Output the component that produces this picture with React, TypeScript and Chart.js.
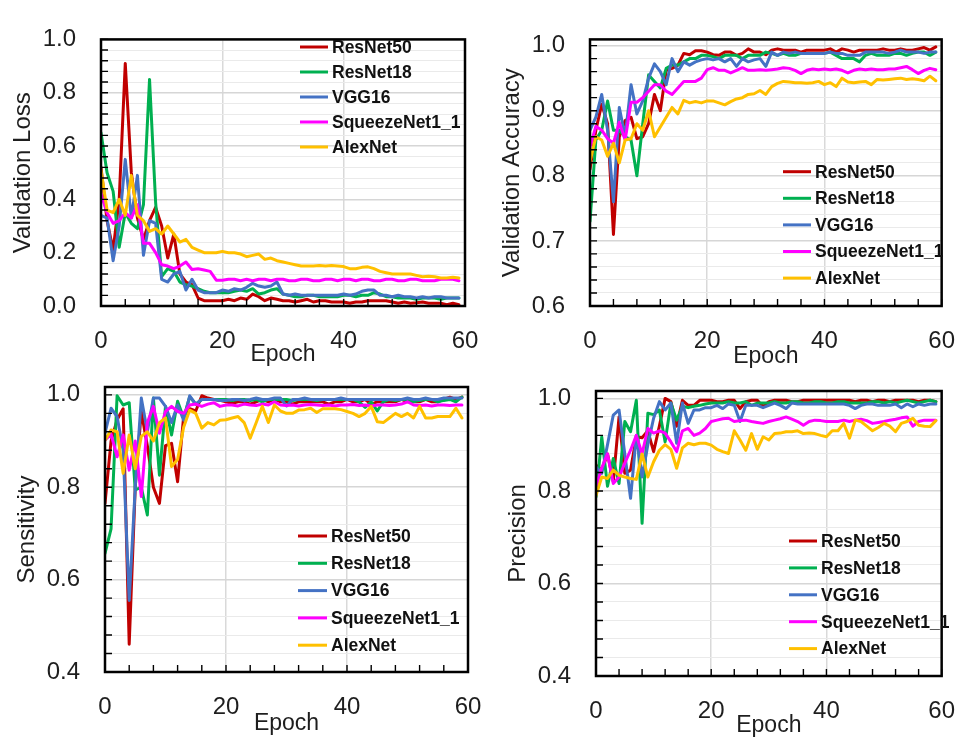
import React, { useEffect, useRef } from 'react';
import { Chart, registerables } from 'chart.js';
Chart.register(...registerables);

// ---------- data ----------
const epochs = [0,1,2,3,4,5,6,7,8,9,10,11,12,13,14,15,16,17,18,19,20,21,22,23,24,25,26,27,28,29,30,31,32,33,34,35,36,37,38,39,40,41,42,43,44,45,46,47,48,49,50,51,52,53,54,55,56,57,58,59];
const modelNames = ['ResNet50', 'ResNet18', 'VGG16', 'SqueezeNet1_1', 'AlexNet'];
const modelColors = ['#C00000', '#00B050', '#4472C4', '#FF00FF', '#FFC000'];

const xTickLabels = ['0', '20', '40', '60'];
const lossTickLabels = ['0.0', '0.2', '0.4', '0.6', '0.8', '1.0'];
const accTickLabels = ['0.6', '0.7', '0.8', '0.9', '1.0'];
const sensTickLabels = ['0.4', '0.6', '0.8', '1.0'];
const precTickLabels = ['0.4', '0.6', '0.8', '1.0'];

const lossResNet50 = [0.52,0.32,0.21,0.40,0.91,0.50,0.33,0.25,0.32,0.37,0.30,0.18,0.27,0.12,0.09,0.08,0.03,0.02,0.02,0.02,
  0.02,0.025,0.02,0.03,0.025,0.045,0.035,0.02,0.03,0.025,
  0.02,0.02,0.015,0.02,0.025,0.015,0.02,0.02,0.015,0.015,
  0.015,0.01,0.015,0.015,0.02,0.02,0.02,0.02,0.015,0.01,
  0.015,0.01,0.012,0.015,0.01,0.01,0.01,0.005,0.01,0.005];
const lossResNet18 = [0.65,0.50,0.43,0.22,0.35,0.31,0.29,0.38,0.85,0.39,0.11,0.14,0.13,0.09,0.08,0.075,0.065,0.055,0.05,0.05,
  0.05,0.05,0.055,0.06,0.055,0.065,0.045,0.05,0.06,0.065,
  0.045,0.04,0.035,0.035,0.04,0.04,0.035,0.035,0.035,0.035,
  0.04,0.04,0.035,0.04,0.04,0.05,0.045,0.035,0.035,0.03,
  0.03,0.03,0.025,0.03,0.03,0.03,0.025,0.03,0.03,0.03];
const lossVGG16 = [0.34,0.33,0.17,0.30,0.55,0.33,0.49,0.19,0.32,0.31,0.10,0.09,0.12,0.13,0.06,0.10,0.06,0.05,0.05,0.05,
  0.06,0.055,0.065,0.06,0.07,0.085,0.075,0.07,0.075,0.09,
  0.045,0.04,0.045,0.04,0.04,0.04,0.04,0.04,0.04,0.04,
  0.045,0.04,0.045,0.055,0.06,0.06,0.04,0.04,0.035,0.04,
  0.035,0.035,0.03,0.035,0.03,0.035,0.035,0.03,0.03,0.03];
const lossSqueeze = [0.42,0.35,0.31,0.32,0.35,0.33,0.38,0.235,0.235,0.20,0.155,0.15,0.14,0.15,0.165,0.137,0.14,0.135,0.13,0.097,
  0.097,0.1,0.1,0.095,0.1,0.095,0.1,0.1,0.095,0.1,
  0.1,0.095,0.095,0.1,0.1,0.095,0.095,0.1,0.1,0.095,
  0.1,0.1,0.095,0.1,0.1,0.095,0.095,0.1,0.1,0.095,
  0.095,0.1,0.1,0.095,0.095,0.095,0.1,0.1,0.1,0.095];
const lossAlex = [0.51,0.36,0.35,0.40,0.34,0.49,0.34,0.32,0.28,0.29,0.27,0.30,0.27,0.24,0.25,0.22,0.21,0.20,0.20,0.20,
  0.205,0.20,0.20,0.195,0.185,0.19,0.195,0.175,0.18,0.17,
  0.165,0.16,0.155,0.15,0.15,0.15,0.152,0.15,0.152,0.15,
  0.148,0.14,0.14,0.145,0.147,0.14,0.13,0.125,0.12,0.12,
  0.12,0.12,0.115,0.11,0.112,0.11,0.105,0.105,0.108,0.105];

const accResNet50 = [0.81,0.87,0.91,0.88,0.71,0.86,0.885,0.89,0.857,0.86,0.88,0.925,0.90,0.962,0.965,0.97,0.988,0.986,0.992,0.992,
  0.99,0.986,0.985,0.99,0.99,0.985,0.988,0.995,0.99,0.99,
  0.986,0.993,0.995,0.993,0.993,0.993,0.99,0.993,0.993,0.993,
  0.993,0.995,0.99,0.995,0.993,0.99,0.993,0.993,0.993,0.993,
  0.995,0.993,0.993,0.995,0.993,0.993,0.995,0.997,0.993,0.998];
const accResNet18 = [0.73,0.855,0.87,0.915,0.87,0.87,0.86,0.855,0.80,0.88,0.955,0.945,0.935,0.965,0.97,0.97,0.975,0.98,0.98,0.985,
  0.985,0.983,0.98,0.985,0.985,0.985,0.98,0.985,0.985,0.985,
  0.99,0.988,0.985,0.988,0.985,0.985,0.988,0.988,0.988,0.988,
  0.988,0.99,0.985,0.98,0.98,0.98,0.975,0.985,0.988,0.985,
  0.985,0.985,0.988,0.988,0.985,0.988,0.99,0.99,0.985,0.99];
const accVGG16 = [0.87,0.89,0.925,0.87,0.76,0.905,0.86,0.94,0.895,0.915,0.95,0.972,0.96,0.94,0.98,0.96,0.975,0.97,0.975,0.978,
  0.98,0.978,0.98,0.975,0.98,0.968,0.98,0.975,0.978,0.98,
  0.968,0.99,0.985,0.99,0.988,0.99,0.988,0.988,0.988,0.988,
  0.988,0.99,0.988,0.988,0.985,0.985,0.985,0.99,0.99,0.99,
  0.99,0.988,0.99,0.993,0.99,0.99,0.99,0.988,0.99,0.99];
const accSqueeze = [0.844,0.876,0.87,0.857,0.85,0.882,0.855,0.913,0.913,0.92,0.93,0.94,0.94,0.93,0.925,0.935,0.945,0.945,0.945,0.95,
  0.963,0.966,0.962,0.962,0.958,0.962,0.966,0.962,0.962,0.963,
  0.962,0.963,0.964,0.966,0.965,0.962,0.957,0.962,0.964,0.963,
  0.964,0.963,0.964,0.962,0.958,0.962,0.964,0.963,0.964,0.963,
  0.963,0.964,0.964,0.966,0.968,0.963,0.957,0.962,0.965,0.963];
const accAlex = [0.822,0.86,0.855,0.83,0.85,0.82,0.855,0.857,0.88,0.87,0.90,0.86,0.875,0.89,0.905,0.895,0.916,0.912,0.914,0.912,
  0.915,0.915,0.912,0.909,0.914,0.918,0.92,0.925,0.926,0.931,
  0.925,0.937,0.942,0.945,0.944,0.943,0.943,0.942,0.943,0.945,
  0.94,0.943,0.937,0.95,0.944,0.943,0.944,0.945,0.94,0.948,
  0.947,0.948,0.949,0.95,0.948,0.949,0.948,0.946,0.953,0.946];

const sensResNet50 = [0.765,0.90,0.946,0.97,0.46,0.80,0.964,0.89,0.80,0.765,0.89,0.895,0.812,0.953,0.97,0.965,0.998,0.993,0.99,0.988,
  0.985,0.982,0.985,0.985,0.98,0.985,0.99,0.985,0.99,0.985,
  0.985,0.98,0.985,0.985,0.985,0.985,0.985,0.98,0.985,0.985,
  0.99,0.985,0.985,0.99,0.98,0.985,0.985,0.985,0.985,0.99,
  0.985,0.985,0.985,0.99,0.985,0.985,0.99,0.995,0.99,0.995];
const sensResNet18 = [0.657,0.71,0.998,0.978,0.983,0.794,0.80,0.74,0.993,0.826,0.975,0.913,0.986,0.95,0.996,0.98,0.99,0.99,0.99,0.99,
  0.99,0.988,0.99,0.99,0.988,0.99,0.985,0.99,0.99,0.99,
  0.99,0.988,0.99,0.99,0.99,0.988,0.99,0.99,0.99,0.99,
  0.99,0.99,0.985,0.973,0.985,0.965,0.985,0.99,0.988,0.99,
  0.99,0.985,0.988,0.99,0.99,0.985,0.988,0.99,0.985,0.995];
const sensVGG16 = [0.917,0.971,0.953,0.88,0.555,0.80,0.993,0.92,0.993,0.993,0.975,0.94,0.978,0.945,0.998,0.98,0.99,0.99,0.99,0.988,
  0.988,0.99,0.99,0.988,0.99,0.993,0.99,0.99,0.993,0.993,
  0.976,0.99,0.99,0.993,0.99,0.99,0.99,0.99,0.99,0.993,
  0.99,0.99,0.99,0.99,0.99,0.99,0.99,0.99,0.99,0.99,
  0.993,0.99,0.99,0.993,0.99,0.99,0.993,0.993,0.993,0.993];
const sensSqueeze = [0.902,0.915,0.866,0.913,0.837,0.90,0.78,0.94,0.975,0.917,0.964,0.975,0.964,0.96,0.978,0.98,0.975,0.98,0.983,0.975,
  0.978,0.978,0.976,0.98,0.978,0.977,0.98,0.978,0.985,0.978,
  0.977,0.978,0.976,0.978,0.979,0.978,0.977,0.978,0.976,0.978,
  0.978,0.979,0.977,0.978,0.976,0.978,0.978,0.977,0.978,0.98,
  0.985,0.978,0.977,0.978,0.976,0.978,0.978,0.977,0.978,0.978];
const sensAlex = [0.902,0.924,0.92,0.83,0.913,0.84,0.91,0.92,0.90,0.94,0.95,0.845,0.86,0.93,0.967,0.96,0.928,0.94,0.935,0.945,
  0.946,0.95,0.953,0.94,0.906,0.94,0.975,0.94,0.978,0.965,
  0.96,0.96,0.967,0.968,0.971,0.962,0.97,0.97,0.97,0.968,
  0.964,0.96,0.953,0.96,0.975,0.942,0.94,0.95,0.96,0.953,
  0.96,0.95,0.975,0.95,0.95,0.953,0.953,0.953,0.971,0.95];

const precResNet50 = [0.856,0.845,0.88,0.82,0.96,0.838,0.845,0.917,0.915,0.93,0.885,0.94,1.0,0.993,0.94,0.996,0.985,0.985,0.996,0.996,
  0.996,0.993,0.993,0.996,0.996,0.978,0.993,0.996,0.996,0.982,
  0.993,0.996,0.996,0.996,0.993,0.993,0.996,0.996,0.996,0.996,
  0.996,0.996,0.996,0.996,0.996,0.993,0.996,0.996,0.993,0.996,
  0.996,0.993,0.996,0.996,0.996,0.996,0.993,0.996,0.996,0.993];
const precResNet18 = [0.787,0.917,0.81,0.87,0.816,0.95,0.928,0.996,0.73,0.968,0.965,0.975,0.906,0.99,0.953,0.983,0.98,0.983,0.985,0.988,
  0.99,0.99,0.99,0.993,0.99,0.99,0.993,0.985,0.99,0.99,
  0.99,0.993,0.99,0.99,0.993,0.993,0.99,0.99,0.993,0.993,
  0.99,0.99,0.993,0.993,0.99,0.99,0.99,0.99,0.993,0.993,
  0.99,0.993,0.99,0.993,0.996,0.993,0.99,0.993,0.996,0.993];
const precVGG16 = [0.852,0.838,0.9,0.964,0.975,0.88,0.784,0.92,0.83,0.9,0.957,0.993,0.975,0.99,0.903,0.99,0.946,0.975,0.975,0.98,
  0.98,0.985,0.978,0.988,0.985,0.95,0.985,0.985,0.985,0.98,
  0.985,0.99,0.985,0.978,0.99,0.988,0.988,0.988,0.988,0.988,
  0.988,0.988,0.988,0.988,0.985,0.978,0.985,0.988,0.988,0.985,
  0.985,0.985,0.988,0.98,0.988,0.982,0.988,0.985,0.988,0.988];
const precSqueeze = [0.81,0.85,0.88,0.816,0.83,0.86,0.888,0.92,0.88,0.935,0.925,0.93,0.925,0.906,0.885,0.93,0.935,0.92,0.925,0.935,
  0.95,0.953,0.956,0.957,0.95,0.952,0.953,0.95,0.948,0.946,
  0.95,0.953,0.956,0.96,0.955,0.95,0.942,0.95,0.953,0.952,
  0.95,0.95,0.95,0.953,0.95,0.953,0.955,0.952,0.946,0.948,
  0.95,0.953,0.955,0.958,0.96,0.94,0.95,0.953,0.953,0.953];
const precAlex = [0.79,0.83,0.827,0.845,0.834,0.83,0.827,0.825,0.88,0.83,0.863,0.888,0.90,0.89,0.849,0.893,0.903,0.9,0.903,0.903,
  0.899,0.89,0.885,0.881,0.93,0.91,0.888,0.924,0.89,0.917,
  0.91,0.924,0.925,0.928,0.928,0.93,0.924,0.925,0.924,0.92,
  0.917,0.93,0.93,0.946,0.914,0.953,0.95,0.94,0.93,0.937,
  0.946,0.94,0.928,0.946,0.95,0.957,0.942,0.94,0.939,0.952];

// ---------- layout / style ----------
const FONT = '"Liberation Sans", Arial, Helvetica, sans-serif';
const TEXT = '#1e1e1e';
const W = 976;
const H = 742;
const Y_AXIS_W = 100;

type PanelCfg = {
  title: string;
  series: number[][];
  yTicks: string[];
  yMax: number;
  area: { l: number; r: number; t: number; b: number };
  xH: number;
  legend: { x1: number; x2: number; tx: number; y0: number; dy: number };
};

const panels: PanelCfg[] = [
  {
    title: 'Validation Loss',
    series: [lossResNet50, lossResNet18, lossVGG16, lossSqueeze, lossAlex],
    yTicks: lossTickLabels, yMax: 1.0,
    area: { l: 101, r: 465, t: 20, b: 306 }, xH: 60,
    legend: { x1: 300, x2: 328, tx: 332, y0: 47, dy: 25 },
  },
  {
    title: 'Validation Accuracy',
    series: [accResNet50, accResNet18, accVGG16, accSqueeze, accAlex],
    yTicks: accTickLabels, yMax: 1.0095,
    area: { l: 590, r: 955, t: 22, b: 306 }, xH: 62.5,
    legend: { x1: 783, x2: 811, tx: 815, y0: 171.7, dy: 26.6 },
  },
  {
    title: 'Sensitivity',
    series: [sensResNet50, sensResNet18, sensVGG16, sensSqueeze, sensAlex],
    yTicks: sensTickLabels, yMax: 1.017,
    area: { l: 105, r: 468, t: 387, b: 672 }, xH: 63,
    legend: { x1: 298, x2: 327, tx: 331, y0: 536, dy: 27.3 },
  },
  {
    title: 'Precision',
    series: [precResNet50, precResNet18, precVGG16, precSqueeze, precAlex],
    yTicks: precTickLabels, yMax: 1.016,
    area: { l: 596, r: 960, t: 391, b: 676 }, xH: 61.5,
    legend: { x1: 789, x2: 817, tx: 821, y0: 541, dy: 26.9 },
  },
];

function tickValues(labels: string[], divisions: number): number[] {
  const majors = labels.map(Number);
  const step = (majors[1] - majors[0]) / divisions;
  const n = Math.round((majors[majors.length - 1] - majors[0]) / step);
  const out: number[] = [];
  for (let i = 0; i <= n; i++) out.push(Math.round((majors[0] + i * step) * 1e6) / 1e6);
  return out;
}

function isMajor(v: number, labels: string[]): boolean {
  return labels.some((l) => Math.abs(Number(l) - v) < 1e-6);
}

const frameLegendPlugin = {
  id: 'frameLegend',
  afterDatasetsDraw(chart: any, _args: any, opts: any) {
    const { ctx, chartArea } = chart;
    const { left, right, top, bottom } = chartArea;
    const xs = chart.scales.x;
    const ys = chart.scales.y;
    ctx.save();
    // inward tick marks
    ctx.strokeStyle = '#000';
    ctx.lineWidth = 1.4;
    ctx.beginPath();
    ys.ticks.forEach((t: any) => {
      const py = ys.getPixelForValue(t.value);
      if (py < top - 0.5 || py > bottom + 0.5) return;
      ctx.moveTo(left, py);
      ctx.lineTo(left + 7, py);
    });
    xs.ticks.forEach((t: any) => {
      const px = xs.getPixelForValue(t.value);
      if (px < left - 0.5 || px > right + 0.5) return;
      ctx.moveTo(px, bottom);
      ctx.lineTo(px, bottom - 7);
    });
    ctx.stroke();
    // frame
    ctx.lineWidth = 2.5;
    ctx.strokeRect(left, top, right - left, bottom - top);
    // legend
    const lg = opts.legend;
    chart.data.datasets.forEach((ds: any, i: number) => {
      const y = lg.y0 + i * lg.dy;
      ctx.strokeStyle = ds.borderColor;
      ctx.lineWidth = 3;
      ctx.beginPath();
      ctx.moveTo(lg.x1, y);
      ctx.lineTo(lg.x2, y);
      ctx.stroke();
      ctx.fillStyle = '#111';
      ctx.font = `bold 17.5px ${FONT}`;
      ctx.textAlign = 'left';
      ctx.textBaseline = 'middle';
      ctx.fillText(ds.label, lg.tx, y + 1);
    });
    ctx.restore();
  },
};

function MetricChart({ cfg }: { cfg: PanelCfg }) {
  const ref = useRef<HTMLCanvasElement | null>(null);
  useEffect(() => {
    if (!ref.current) return;
    const xVals = tickValues(xTickLabels, 5);
    const yVals = tickValues(cfg.yTicks, 5);
    const yMin = Number(cfg.yTicks[0]);
    const { area, xH } = cfg;
    const chart = new Chart(ref.current, {
      type: 'line',
      data: {
        datasets: cfg.series.map((d, i) => ({
          label: modelNames[i],
          data: d.map((v, j) => ({ x: epochs[j], y: v })),
          borderColor: modelColors[i],
          backgroundColor: modelColors[i],
          borderWidth: 3,
          pointRadius: 0,
          tension: 0,
          fill: false,
          order: 5 - i,
          borderJoinStyle: 'round',
          borderCapStyle: 'round',
        })),
      },
      options: {
        responsive: false,
        animation: false,
        devicePixelRatio: 1,
        events: [],
        layout: {
          padding: {
            left: area.l - Y_AXIS_W,
            right: W - area.r,
            top: area.t,
            bottom: H - area.b - xH,
          },
        },
        plugins: {
          legend: { display: false },
          tooltip: { enabled: false },
          frameLegend: { legend: cfg.legend },
        } as any,
        scales: {
          x: {
            type: 'linear',
            min: 0,
            max: 60,
            afterBuildTicks: (s: any) => { s.ticks = xVals.map((v) => ({ value: v })); },
            afterFit: (s: any) => { s.height = xH; },
            grid: {
              drawTicks: false,
              color: (c: any) => (c.tick && (c.tick.value === 20 || c.tick.value === 40) ? '#d9d9d9' : 'rgba(0,0,0,0)'),
              lineWidth: 1.5,
            },
            border: { display: false },
            ticks: {
              autoSkip: false,
              maxRotation: 0,
              padding: 21,
              color: TEXT,
              font: { family: FONT, size: 24 },
              callback: (v: any) => (xTickLabels.includes(String(v)) ? String(v) : ''),
            },
            title: {
              display: true,
              text: 'Epoch',
              color: TEXT,
              font: { family: FONT, size: 23, lineHeight: 1 },
              padding: 0,
            },
          },
          y: {
            type: 'linear',
            min: yMin,
            max: cfg.yMax,
            afterBuildTicks: (s: any) => { s.ticks = yVals.map((v) => ({ value: v })); },
            afterFit: (s: any) => { s.width = Y_AXIS_W; },
            grid: {
              drawTicks: false,
              color: (c: any) => (c.tick && isMajor(c.tick.value, cfg.yTicks) ? '#d6d6d6' : '#eaeaea'),
              lineWidth: (c: any) => (c.tick && isMajor(c.tick.value, cfg.yTicks) ? 1.5 : 1),
            },
            border: { display: false },
            ticks: {
              autoSkip: false,
              padding: 25,
              color: TEXT,
              font: { family: FONT, size: 24 },
              callback: (v: any) => {
                const lab = cfg.yTicks.find((l) => Math.abs(Number(l) - Number(v)) < 1e-6);
                return lab ?? '';
              },
            },
            title: {
              display: true,
              text: cfg.title,
              color: TEXT,
              font: { family: FONT, size: 24, lineHeight: 1 },
              padding: { top: 10, bottom: 0 },
            },
          },
        },
      } as any,
      plugins: [frameLegendPlugin],
    });
    return () => chart.destroy();
  }, [cfg]);
  return (
    <canvas
      ref={ref}
      width={W}
      height={H}
      style={{ position: 'absolute', left: 0, top: 0, width: W, height: H }}
    />
  );
}

export default function App() {
  return (
    <div style={{ position: 'fixed', left: 0, top: 0, width: W, height: H, background: '#fff', overflow: 'hidden' }}>
      {panels.map((p) => (
        <MetricChart key={p.title} cfg={p} />
      ))}
    </div>
  );
}
